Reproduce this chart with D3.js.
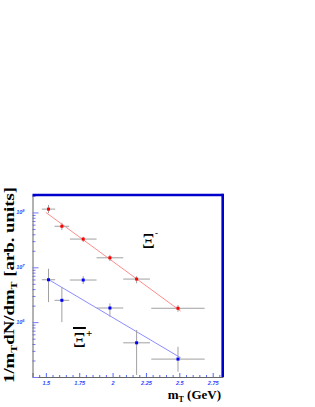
<!DOCTYPE html>
<html>
<head>
<meta charset="utf-8">
<script src="https://cdn.jsdelivr.net/npm/d3@7"></script>
<style>
  body { margin: 0; background: #fff; }
  .tick text { font-family: "Liberation Sans", Arial, sans-serif; font-style: italic; font-weight: bold; fill: #3344ff; }
  .lbl { font-family: "Liberation Serif", "Times New Roman", serif; font-weight: bold; fill: #000; }
</style>
</head>
<body>
<div class="chart"></div>
<script>
/* data */
var xiMinusMt   = [1.52, 1.62, 1.78, 1.98, 2.18, 2.49];
var xiMinusVal  = [1.15e8, 5.6e7, 3.27e7, 1.49e7, 6.1e6, 1.79e6];
var xiMinusHi   = [1.37e8, 6.49e7, 3.6e7, 1.69e7, 6.9e6, 2.05e6];
var xiMinusLo   = [0.97e8, 4.78e7, 2.88e7, 1.3e7, 5.1e6, 1.55e6];
var xiMinusXErr = [0.05, 0.055, 0.1, 0.1, 0.1, 0.2];

var xiPlusMt   = [1.52, 1.62, 1.78, 1.98, 2.18, 2.49];
var xiPlusVal  = [5.93e6, 2.5e6, 5.86e6, 1.81e6, 4.2e5, 2.12e5];
var xiPlusHi   = [9.4e6, 4.37e6, 6.9e6, 2.2e6, 7.2e5, 3.56e5];
var xiPlusLo   = [2.32e6, 1.0e6, 4.96e6, 1.25e6, 1.09e5, 1.25e5];
var xiPlusXErr = [0.05, 0.055, 0.1, 0.1, 0.1, 0.2];

// fit lines (end points)
var xiMinusFitX = [1.50, 2.51];
var xiMinusFitY = [1.0e8, 1.59e6];
var xiPlusFitX  = [1.527, 2.51];
var xiPlusFitY  = [5.85e6, 2.24e5];

var xTicks = [1.5, 1.75, 2, 2.25, 2.5, 2.75];
var yMajor = [1e5, 1e6, 1e7, 1e8];
var yLabels = [1e6, 1e7, 1e8];

/* SET UP */
var W = 315, H = 407;
var frame = { left: 32.5, right: 222.7, top: 195, bottom: 377 };

var xScale = d3.scaleLinear().domain([1.4, 2.825]).range([frame.left, frame.right]);
var yScale = d3.scaleLog().domain([1e5, 2.08e8]).range([frame.bottom, frame.top]);

var svg = d3.select(".chart").append("svg")
    .attr("width", W)
    .attr("height", H);

// minor ticks
var xMinor = d3.range(1.45, 2.81, 0.05).filter(function(v) {
    return xTicks.every(function(t) { return Math.abs(t - v) > 1e-6; });
});
var yMinor = [];
[1e5, 1e6, 1e7, 1e8].forEach(function(d) {
    for (var k = 2; k <= 9; k++) if (d * k <= 2.08e8) yMinor.push(d * k);
});

// X axis
svg.append("g")
    .attr("transform", "translate(0," + frame.bottom + ")")
    .call(d3.axisBottom(xScale).tickValues(xMinor).tickSize(-2).tickFormat(""))
    .call(function(g) { g.select(".domain").remove(); g.selectAll("line").attr("stroke", "#5566ff"); });

svg.append("g")
    .attr("transform", "translate(0," + frame.bottom + ")")
    .call(d3.axisBottom(xScale).tickValues(xTicks).tickSize(-4).tickPadding(4)
        .tickFormat(function(d) { return String(d); }))
    .call(function(g) {
        g.select(".domain").attr("stroke", "#666");
        g.selectAll("line").attr("stroke", "#5566ff");
        g.selectAll("text").style("font-size", "5.5px");
    });

// Y axis
svg.append("g")
    .attr("transform", "translate(" + frame.left + ",0)")
    .call(d3.axisLeft(yScale).tickValues(yMinor).tickSize(-3).tickFormat(""))
    .call(function(g) { g.select(".domain").remove(); g.selectAll("line").attr("stroke", "#7777ff"); });

svg.append("g")
    .attr("transform", "translate(" + frame.left + ",0)")
    .call(d3.axisLeft(yScale).tickValues(yMajor).tickSize(-6).tickPadding(8)
        .tickFormat(""))
    .call(function(g) {
        g.select(".domain").attr("stroke", "#666");
        g.selectAll("line").attr("stroke", "#7777ff");
    });

var yl = svg.append("g").selectAll("text")
    .data(yLabels)
    .enter().append("text")
    .attr("class", "tick")
    .attr("x", 24.5)
    .attr("y", function(d) { return yScale(d) + 2; })
    .attr("text-anchor", "end")
    .style("font-family", "Liberation Sans, Arial, sans-serif")
    .style("font-style", "italic")
    .style("font-weight", "bold")
    .style("font-size", "5.5px")
    .style("fill", "#3344ff");
yl.append("tspan").text("10");
yl.append("tspan").attr("dy", -2.5).style("font-size", "4px")
    .text(function(d) { return Math.round(Math.log10(d)); });

// frame: thick blue top and right
svg.append("line")
    .attr("x1", frame.left).attr("x2", frame.right)
    .attr("y1", frame.top).attr("y2", frame.top)
    .attr("stroke", "#0000cc").attr("stroke-width", 2.6);
svg.append("line")
    .attr("x1", frame.right).attr("x2", frame.right)
    .attr("y1", frame.top - 1.3).attr("y2", frame.bottom)
    .attr("stroke", "#0000cc").attr("stroke-width", 2.6);

// fit lines
var line = d3.line()
    .x(function(d) { return xScale(d[0]); })
    .y(function(d) { return yScale(d[1]); });

svg.append("path")
    .datum(d3.zip(xiMinusFitX, xiMinusFitY))
    .attr("d", line)
    .attr("fill", "none")
    .attr("stroke", "#ff8c8c")
    .attr("stroke-width", 1);

svg.append("path")
    .datum(d3.zip(xiPlusFitX, xiPlusFitY))
    .attr("d", line)
    .attr("fill", "none")
    .attr("stroke", "#8c8cff")
    .attr("stroke-width", 1);

// points with error bars
function drawSeries(mt, val, hi, lo, xerr, color) {
    var data = mt.map(function(m, i) {
        return { x: m, y: val[i], hi: hi[i], lo: lo[i], xe: xerr[i] };
    });
    var g = svg.append("g");

    g.selectAll(".hbar")
        .data(data)
        .enter().append("line")
        .attr("class", "hbar")
        .attr("x1", function(d) { return xScale(d.x - d.xe); })
        .attr("x2", function(d) { return xScale(d.x + d.xe); })
        .attr("y1", function(d) { return yScale(d.y); })
        .attr("y2", function(d) { return yScale(d.y); })
        .attr("stroke", "#a0a0a0")
        .attr("stroke-width", 1);

    g.selectAll(".vbar")
        .data(data)
        .enter().append("line")
        .attr("class", "vbar")
        .attr("x1", function(d) { return xScale(d.x); })
        .attr("x2", function(d) { return xScale(d.x); })
        .attr("y1", function(d) { return yScale(d.hi); })
        .attr("y2", function(d) { return yScale(d.lo); })
        .attr("stroke", "#a0a0a0")
        .attr("stroke-width", 1);

    g.selectAll(".dot")
        .data(data)
        .enter().append("rect")
        .attr("class", "dot")
        .attr("x", function(d) { return xScale(d.x) - 1.5; })
        .attr("y", function(d) { return yScale(d.y) - 1.5; })
        .attr("width", 3)
        .attr("height", 3)
        .attr("fill", color);
}

drawSeries(xiMinusMt, xiMinusVal, xiMinusHi, xiMinusLo, xiMinusXErr, "#ff0000");
drawSeries(xiPlusMt, xiPlusVal, xiPlusHi, xiPlusLo, xiPlusXErr, "#0000ff");

// particle labels
var lm = svg.append("text").attr("class", "lbl")
    .attr("x", 142).attr("y", 248)
    .style("font-weight", "normal")
    .style("font-size", "20px");
lm.append("tspan").text("Ξ");
lm.append("tspan").attr("dy", -12).style("font-size", "9px").style("font-weight", "bold").text("-");

var lp = svg.append("text").attr("class", "lbl")
    .attr("x", 73).attr("y", 347)
    .style("font-weight", "normal")
    .style("font-size", "20px");
lp.append("tspan").style("text-decoration", "overline").text("Ξ");
lp.append("tspan").attr("dy", -10).style("font-size", "11px").style("font-weight", "bold").text("+");

// axis titles
svg.append("text").attr("class", "lbl")
    .attr("x", 221).attr("y", 399)
    .attr("text-anchor", "end")
    .style("font-size", "13px")
    .html('m<tspan dy="3" font-size="8px">T</tspan><tspan dy="-3"> (GeV)</tspan>');

svg.append("text").attr("class", "lbl")
    .attr("transform", "translate(14,383) rotate(-90)")
    .attr("text-anchor", "start")
    .attr("textLength", 196)
    .attr("lengthAdjust", "spacingAndGlyphs")
    .style("font-size", "14px")
    .html('1/m<tspan dy="3" font-size="9px">T</tspan><tspan dy="-3">dN/dm</tspan><tspan dy="3" font-size="9px">T</tspan><tspan dy="-3"> [arb. units]</tspan>');
</script>
</body>
</html>
